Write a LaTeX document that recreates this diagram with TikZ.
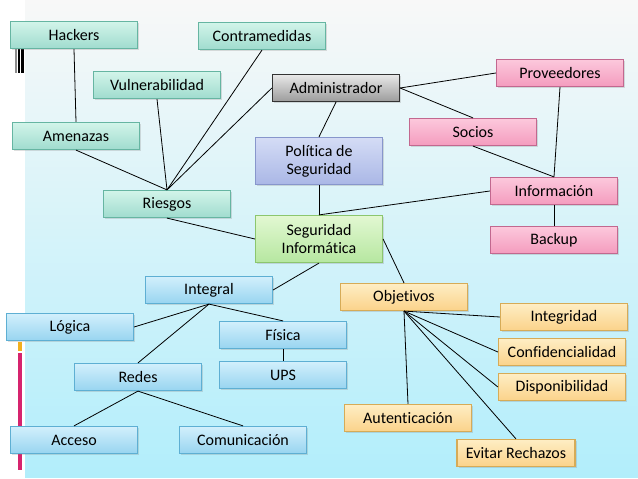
\documentclass[tikz,border=0pt]{standalone}
\usepackage{fontspec}
\setmainfont{Carlito}[Ligatures={NoCommon}]
\usetikzlibrary{shadows}

\definecolor{bgtop}{HTML}{F8F8F8}
\definecolor{bgmid}{HTML}{EAF5F8}
\definecolor{bgbot}{HTML}{B2EEFB}
\definecolor{tealtop}{HTML}{D2F4EA}
\definecolor{tealbot}{HTML}{A0DCCE}
\definecolor{tealline}{HTML}{66B5A2}
\definecolor{graytop}{HTML}{E8E8E8}
\definecolor{graybot}{HTML}{9C9C9C}
\definecolor{lilatop}{HTML}{D4DCF5}
\definecolor{lilabot}{HTML}{AAB7E6}
\definecolor{lilaline}{HTML}{8796CC}
\definecolor{greentop}{HTML}{E2F8D2}
\definecolor{greenbot}{HTML}{B6E7A0}
\definecolor{greenline}{HTML}{8CC66E}
\definecolor{pinktop}{HTML}{FCC8DC}
\definecolor{pinkbot}{HTML}{F49CBE}
\definecolor{pinkline}{HTML}{C2688F}
\definecolor{bluetop}{HTML}{D2F0FC}
\definecolor{bluebot}{HTML}{98D4F0}
\definecolor{blueline}{HTML}{5EAFD3}
\definecolor{oratop}{HTML}{FEEDC4}
\definecolor{orabot}{HTML}{FBD38A}
\definecolor{oraline}{HTML}{D6AB57}
\definecolor{barpink}{HTML}{D6246E}
\definecolor{baryellow}{HTML}{F2B01E}

\begin{document}
\begin{tikzpicture}[x=1pt,y=-1pt,
  box/.style={draw, line width=1.2pt, minimum width=127pt, minimum height=27pt,
    inner sep=0pt, align=center, font=\fontsize{16}{18}\selectfont,
    drop shadow={shadow xshift=1.5pt,shadow yshift=-1.5pt,opacity=0.25}},
  tall/.style={minimum height=47pt},
  tealbox/.style={box, draw=tealline, top color=tealtop, bottom color=tealbot},
  graybox/.style={box, draw=black!80, top color=graytop, bottom color=graybot},
  lilabox/.style={box, draw=lilaline, top color=lilatop, bottom color=lilabot},
  greenbox/.style={box, draw=greenline, top color=greentop, bottom color=greenbot},
  pinkbox/.style={box, draw=pinkline, top color=pinktop, bottom color=pinkbot},
  bluebox/.style={box, draw=blueline, top color=bluetop, bottom color=bluebot},
  orabox/.style={box, draw=oraline, top color=oratop, bottom color=orabot},
  link/.style={draw, line width=0.8pt}]

\useasboundingbox (0,0) rectangle (638,479) ;
\fill[white] (0,0) rectangle (638,479) ;
\shade[top color=bgtop, middle color=bgmid, bottom color=bgbot] (25,0) rectangle (638,477) ;

% bars on the left side
\fill[black!45] (15,48) rectangle (17,73) ;
\fill[black] (18,48) rectangle (20,73) ;
\fill[black] (21,48) rectangle (24,73) ;
\fill[baryellow] (18,342) rectangle (22,351) ;
\fill[barpink] (18,353) rectangle (22,470) ;

% riesgos
\node[tealbox] (hackers) at (74,35) {Hackers} ;
\node[tealbox] (contra) at (262,36) {Contramedidas} ;
\node[tealbox] (vulner) at (157,85) {Vulnerabilidad} ;
\node[tealbox] (amenazas) at (76,136) {Amenazas} ;
\node[tealbox] (riesgos) at (167,204) {Riesgos} ;

% centro
\node[graybox] (admin) at (336,88) {Administrador} ;
\node[lilabox,tall] (politica) at (319,161) {Política de\\Seguridad} ;
\node[greenbox,tall] (seginf) at (319,239) {Seguridad\\Informática} ;

% informacion
\node[pinkbox] (proveedores) at (560,73) {Proveedores} ;
\node[pinkbox] (socios) at (473,132) {Socios} ;
\node[pinkbox] (informacion) at (554,191) {Información} ;
\node[pinkbox] (backup) at (554,240) {Backup} ;

% integral
\node[bluebox] (integral) at (209,290) {Integral} ;
\node[bluebox] (logica) at (70,327) {Lógica} ;
\node[bluebox] (fisica) at (283,335) {Física} ;
\node[bluebox] (ups) at (283,375) {UPS} ;
\node[bluebox] (redes) at (138,377) {Redes} ;
\node[bluebox] (acceso) at (74,440) {Acceso} ;
\node[bluebox] (comunic) at (243,440) {Comunicación} ;

% objetivos
\node[orabox] (objetivos) at (404,297) {Objetivos} ;
\node[orabox] (integridad) at (564,317) {Integridad} ;
\node[orabox] (confid) at (562,352) {Confidencialidad} ;
\node[orabox] (dispon) at (562,387) {Disponibilidad} ;
\node[orabox] (autent) at (408,418) {Autenticación} ;
\node[orabox,minimum width=118pt] (evitar) at (516,453) {Evitar Rechazos} ;

\draw[link] (hackers.south) -- (amenazas.north) ;
\draw[link] (amenazas.south) -- (riesgos.north) ;
\draw[link] (vulner.south) -- (riesgos.north) ;
\draw[link] (contra.south) -- (riesgos.north) ;
\draw[link] (admin.west) -- (riesgos.north) ;
\draw[link] (riesgos.south) -- (seginf.west) ;

\draw[link] (admin.south) -- (politica.north) ;
\draw[link] (politica.south) -- (seginf.north) ;
\draw[link] (admin.east) -- (proveedores.west) ;
\draw[link] (admin.east) -- (socios.north) ;
\draw[link] (socios.south) -- (informacion.north) ;
\draw[link] (proveedores.south) -- (informacion.north) ;
\draw[link] (informacion.west) -- (seginf.north) ;
\draw[link] (informacion.south) -- (backup.north) ;

\draw[link] (seginf.south) -- (integral.east) ;
\draw[link] (integral.south) -- (logica.east) ;
\draw[link] (integral.south) -- (fisica.north) ;
\draw[link] (integral.south) -- (redes.north) ;
\draw[link] (fisica.south) -- (ups.north) ;
\draw[link] (redes.south) -- (acceso.north) ;
\draw[link] (redes.south) -- (comunic.north) ;

\draw[link] (seginf.east) -- (objetivos.north) ;
\draw[link] (objetivos.south) -- (integridad.west) ;
\draw[link] (objetivos.south) -- (confid.west) ;
\draw[link] (objetivos.south) -- (dispon.west) ;
\draw[link] (objetivos.south) -- (autent.north) ;
\draw[link] (objetivos.south) -- (evitar.north) ;

\end{tikzpicture}
\end{document}
